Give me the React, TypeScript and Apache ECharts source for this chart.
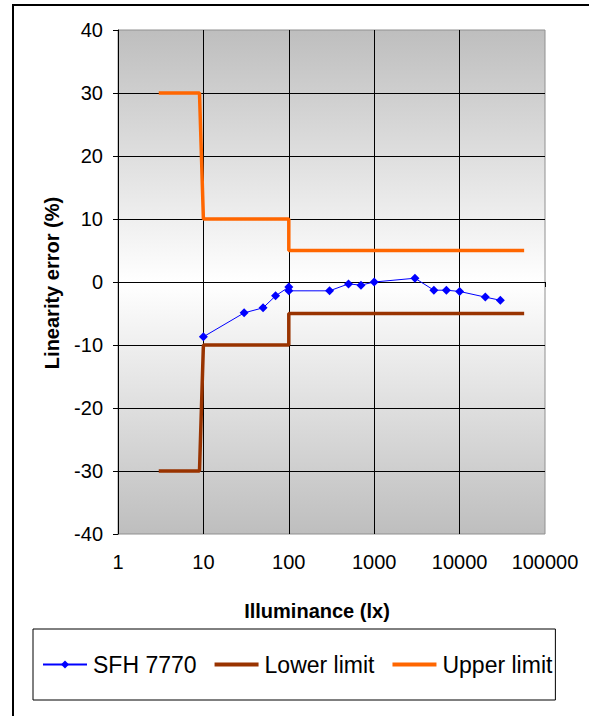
import React, { useEffect, useRef } from "react";
import * as echarts from "echarts";

const sfhX = [10, 30, 50, 70, 100, 100, 300, 500, 700, 1000, 3000, 5000, 7000, 10000, 20000, 30000];
const sfhY = [-8.7, -4.9, -4.1, -2.2, -0.8, -1.4, -1.4, -0.3, -0.5, 0.0, 0.6, -1.3, -1.3, -1.5, -2.4, -2.9];

const lowerX = [3, 9, 10, 100, 100, 57000];
const lowerY = [-30, -30, -10, -10, -5, -5];

const upperX = [3, 9, 10, 100, 100, 57000];
const upperY = [30, 30, 10, 10, 5, 5];

const xTicks = [1, 10, 100, 1000, 10000, 100000];
const yMin = -40;
const yMax = 40;
const yStep = 10;

const seriesNames = ["SFH 7770", "Lower limit", "Upper limit"];
const xTitle = "Illuminance (lx)";
const yTitle = "Linearity error (%)";

const FONT = "'Liberation Sans', Arial, sans-serif";
const BAR_ICON = "path://M0,0H44V4H0Z";

function zip(xs: number[], ys: number[]) {
  return xs.map((x, i) => [x, ys[i]]);
}

export default function App() {
  const ref = useRef<HTMLDivElement>(null);
  useEffect(() => {
    document.body.style.margin = "0";
    if (!ref.current) return;
    const chart = echarts.init(ref.current, null, { renderer: "svg" });
    chart.setOption({
      animation: false,
      backgroundColor: "#ffffff",
      grid: {
        left: 118,
        top: 30,
        right: 44,
        bottom: 182,
        show: true,
        borderColor: "#909090",
        borderWidth: 1,
        backgroundColor: new echarts.graphic.LinearGradient(0, 0, 0, 1, [
          { offset: 0, color: "#bebebe" },
          { offset: 0.5, color: "#ffffff" },
          { offset: 1, color: "#bebebe" },
        ]),
      },
      xAxis: {
        type: "log",
        logBase: 10,
        min: xTicks[0],
        max: xTicks[xTicks.length - 1],
        axisLine: { show: true, lineStyle: { color: "#000", width: 1 } },
        axisTick: { show: true, length: 5, lineStyle: { color: "#000" } },
        minorTick: { show: false },
        splitLine: { show: true, showMinLine: false, showMaxLine: false, lineStyle: { color: "#000", width: 1 } },
        axisLabel: {
          color: "#000",
          fontFamily: FONT,
          fontSize: 20,
          margin: 18,
          formatter: (v: number) => String(Math.round(v)),
        },
      },
      yAxis: {
        type: "value",
        min: yMin,
        max: yMax,
        interval: yStep,
        axisLine: { show: true, lineStyle: { color: "#000", width: 1 } },
        axisTick: { show: true, length: 5, lineStyle: { color: "#000" } },
        splitLine: { show: true, showMinLine: false, showMaxLine: false, lineStyle: { color: "#000", width: 1 } },
        axisLabel: {
          color: "#000",
          fontFamily: FONT,
          fontSize: 20,
          margin: 15,
        },
      },
      legend: {
        left: 33,
        top: 629,
        width: 527,
        orient: "horizontal",
        borderColor: "#000",
        borderWidth: 1,
        padding: [24, 3, 24, 9],
        itemGap: 18,
        itemWidth: 44,
        itemHeight: 10,
        symbolKeepAspect: true,
        textStyle: { fontFamily: FONT, fontSize: 23, color: "#000", padding: [0, 0, 0, 1] },
        data: [
          { name: seriesNames[0] },
          { name: seriesNames[1], icon: BAR_ICON },
          { name: seriesNames[2], icon: BAR_ICON },
        ],
      },
      graphic: [
        {
          type: "rect",
          shape: { x: 13, y: 5, width: 700, height: 800 },
          style: { fill: "none", stroke: "#000", lineWidth: 2 },
          silent: true,
        },
        {
          type: "text",
          x: 317,
          y: 611,
          style: {
            text: xTitle,
            fontFamily: FONT,
            fontSize: 20,
            fontWeight: "bold",
            fill: "#000",
            align: "center",
            verticalAlign: "middle",
          },
        },
        {
          type: "text",
          x: 52,
          y: 283,
          rotation: Math.PI / 2,
          style: {
            text: yTitle,
            fontFamily: FONT,
            fontSize: 20,
            fontWeight: "bold",
            fill: "#000",
            align: "center",
            verticalAlign: "middle",
          },
        },
      ],
      series: [
        {
          name: seriesNames[0],
          type: "line",
          data: zip(sfhX, sfhY),
          symbol: "diamond",
          symbolSize: 9,
          showAllSymbol: true,
          lineStyle: { color: "#0000ff", width: 1 },
          itemStyle: { color: "#0000ff" },
          z: 3,
        },
        {
          name: seriesNames[1],
          type: "line",
          data: zip(lowerX, lowerY),
          symbol: "none",
          lineStyle: { color: "#993300", width: 3.5 },
          itemStyle: { color: "#993300" },
          z: 2,
        },
        {
          name: seriesNames[2],
          type: "line",
          data: zip(upperX, upperY),
          symbol: "none",
          lineStyle: { color: "#ff6600", width: 3.5 },
          itemStyle: { color: "#ff6600" },
          z: 2,
        },
      ],
    });
    return () => chart.dispose();
  }, []);
  return <div ref={ref} style={{ width: 589, height: 716 }} />;
}
